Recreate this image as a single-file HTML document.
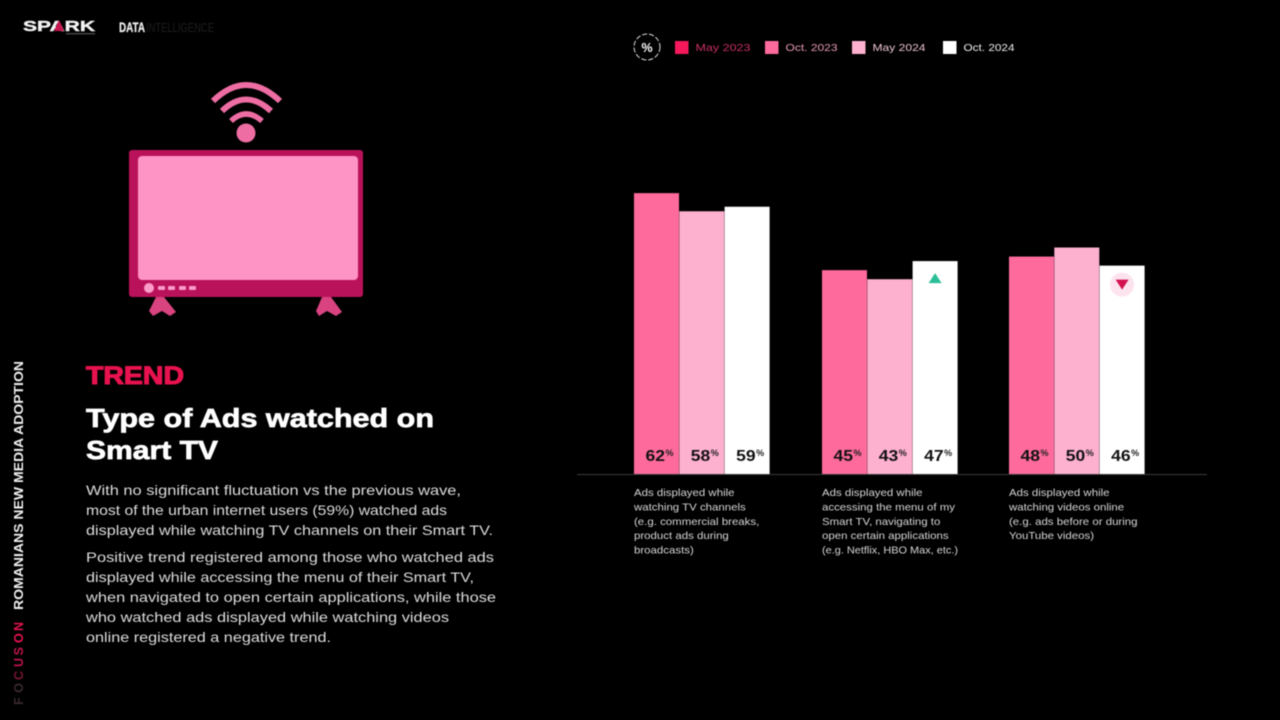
<!DOCTYPE html>
<html lang="en">
<head>
<meta charset="utf-8">
<title>Type of Ads watched on Smart TV</title>
<style>
html,body{margin:0;padding:0;background:#000;width:1280px;height:720px;overflow:hidden}
svg{display:block;font-family:"Liberation Sans",sans-serif;filter:blur(.45px)}
.body-line{font-size:14px;fill:#dcdcdc}
.cat-line{font-size:10.5px;fill:#d6d6d6}
.legend-label{font-size:10.5px}
</style>
</head>
<body>
<svg id="root" width="1280" height="720" viewBox="0 0 1280 720" xmlns="http://www.w3.org/2000/svg">
  <rect width="1280" height="720" fill="#000"/>

  <g>
    <text x="23" y="31" font-size="14.5" font-weight="700" fill="#f2f2f2" stroke="#f2f2f2" stroke-width=".4" textLength="72" lengthAdjust="spacingAndGlyphs">SPARK</text>
    <polygon points="54,31 59,20 64,31" fill="#c9164f"/>
    <rect x="66" y="33" width="29" height="1.5" fill="#444"/>
  </g>
  <text x="119" y="32" font-size="14" font-weight="700" fill="#eee" stroke="#eee" stroke-width=".3" textLength="26" lengthAdjust="spacingAndGlyphs">DATA</text>
  <text x="146" y="32" font-size="13" fill="#1e1e1e" textLength="68" lengthAdjust="spacingAndGlyphs">INTELLIGENCE</text>

  <g>
    <path d="M213 101 Q246 69 280 101" fill="none" stroke="#ee6da3" stroke-width="6"/>
    <path d="M222 111 Q246 88 271 111" fill="none" stroke="#ee6da3" stroke-width="6"/>
    <path d="M231 121 Q246 107 262 121" fill="none" stroke="#ee6da3" stroke-width="5.5"/>
    <circle cx="246" cy="133" r="9.5" fill="#ee6da3"/>
    <path d="M156 297 L164 297 L176 312 L170 316 L162 311 L153 316 L149 311 Z" fill="#d9437f"/>
    <path d="M322 297 L331 297 L342 312 L336 316 L327 311 L319 316 L316 311 Z" fill="#d9437f"/>
    <rect x="129" y="150" width="234" height="147" rx="3" fill="#b9115a"/>
    <rect x="138" y="156" width="220" height="124" rx="4" fill="#fe93c5"/>
    <circle cx="149" cy="288" r="5" fill="#fb9cc8"/>
    <rect x="158" y="286" width="7" height="4" rx="1" fill="#fb9cc8"/>
    <rect x="168" y="286" width="7" height="4" rx="1" fill="#fb9cc8"/>
    <rect x="179" y="286" width="7" height="4" rx="1" fill="#fb9cc8"/>
    <rect x="189" y="286" width="7" height="4" rx="1" fill="#fb9cc8"/>
  </g>

  <text x="86" y="384" font-size="25" font-weight="700" fill="#e8124f" stroke="#e8124f" stroke-width="1.1" textLength="98" lengthAdjust="spacingAndGlyphs">TREND</text>
  <g font-size="26" font-weight="700" fill="#fff" stroke="#fff" stroke-width=".7">
    <text x="86" y="427" textLength="348" lengthAdjust="spacingAndGlyphs">Type of Ads watched on</text>
    <text x="86" y="459" textLength="132" lengthAdjust="spacingAndGlyphs">Smart TV</text>
  </g>
  <g>
    <text class="body-line" x="86" y="495" textLength="375" lengthAdjust="spacingAndGlyphs">With no significant fluctuation vs the previous wave,</text>
    <text class="body-line" x="86" y="515" textLength="361" lengthAdjust="spacingAndGlyphs">most of the urban internet users (59%) watched ads</text>
    <text class="body-line" x="86" y="535" textLength="407" lengthAdjust="spacingAndGlyphs">displayed while watching TV channels on their Smart TV.</text>
    <text class="body-line" x="86" y="562" textLength="408" lengthAdjust="spacingAndGlyphs">Positive trend registered among those who watched ads</text>
    <text class="body-line" x="86" y="582" textLength="388" lengthAdjust="spacingAndGlyphs">displayed while accessing the menu of their Smart TV,</text>
    <text class="body-line" x="86" y="602" textLength="410" lengthAdjust="spacingAndGlyphs">when navigated to open certain applications, while those</text>
    <text class="body-line" x="86" y="622" textLength="363" lengthAdjust="spacingAndGlyphs">who watched ads displayed while watching videos</text>
    <text class="body-line" x="86" y="642" textLength="245" lengthAdjust="spacingAndGlyphs">online registered a negative trend.</text>
  </g>

  <g transform="translate(23,705) rotate(-90)" font-size="12.5" font-weight="700">
    <text x="0" y="0" fill="#3a2a2e" textLength="22" lengthAdjust="spacing">FO</text>
    <text x="25" y="0" fill="#7a1733">C</text>
    <text x="38" y="0" fill="#c0134a" textLength="20" lengthAdjust="spacing">US</text>
    <text x="62" y="0" fill="#e8124f" textLength="21" lengthAdjust="spacing">ON</text>
    <text x="95" y="0" fill="#f0f0f0" textLength="249" lengthAdjust="spacingAndGlyphs">ROMANIANS NEW MEDIA ADOPTION</text>
  </g>

  <g>
    <circle cx="647" cy="47" r="13" fill="none" stroke="#ddd" stroke-width="1" stroke-dasharray="5 2"/>
    <text x="647" y="52" font-size="12.5" font-weight="700" fill="#fff" text-anchor="middle">%</text>
  </g>
  <g id="legend"></g>
  <g id="chart"></g>
</svg>
<script>
const categories = [
  ["Ads displayed while","watching TV channels","(e.g. commercial breaks,","product ads during","broadcasts)"],
  ["Ads displayed while","accessing the menu of my","Smart TV, navigating to","open certain applications","(e.g. Netflix, HBO Max, etc.)"],
  ["Ads displayed while","watching videos online","(e.g. ads before or during","YouTube videos)"]
];
const seriesNames = ["May 2023","Oct. 2023","May 2024","Oct. 2024"];
const oct2023 = [62,45,48];
const may2024 = [58,43,50];
const oct2024 = [59,47,46];
const trends = [null,"up","down"];

const NS = "http://www.w3.org/2000/svg";
const baseY = 474;
const pxPerPct = 4.53;
const groupLeft = [634,822,1009];
const barW = 45;
const barColors = ["#fe6a9c","#feb0cf","#ffffff"];
const catStretch = 1.09;
const catMaxWidth = 136;
const yScale = v => baseY - v * pxPerPct;
const xScale = (g, s) => groupLeft[g] + s * 45.3;

function make(tag, attrs, parent, text) {
  const el = document.createElementNS(NS, tag);
  for (const k in attrs) el.setAttribute(k, attrs[k]);
  if (text !== undefined) el.textContent = text;
  parent.appendChild(el);
  return el;
}

const chart = document.getElementById("chart");
const legend = document.getElementById("legend");

const legendColors = ["#f5195c","#fe6a9c","#feb0cf","#ffffff"];
const legendTextColors = ["#c9305f","#e79ab8","#eec4d6","#f2f2f2"];
const legendSwatchX = [675,765,852,943];
const legendTextW = [55,52,53,51];
seriesNames.forEach((name, i) => {
  const sw = make("rect", {x: legendSwatchX[i], y: 41, width: 13.5, height: 13, fill: legendColors[i]}, legend);
  
  
  const t = make("text", {x: legendSwatchX[i] + 20.5, y: 51, class: "legend-label", fill: legendTextColors[i], textLength: legendTextW[i], lengthAdjust: "spacingAndGlyphs"}, legend, name);
  
  
});

const series = [oct2023, may2024, oct2024];
series.forEach((vals, s) => {
  vals.forEach((v, g) => {
    const x = xScale(g, s);
    const y = yScale(v);
    const bar = make("rect", {x: x, y: y, width: barW, height: baseY - y, fill: barColors[s]}, chart);
    
    
    const label = make("text", {x: x + 11.5, y: 461, "font-size": 16, "font-weight": 700, fill: "#111", textLength: 19.5, lengthAdjust: "spacingAndGlyphs"}, chart, String(v));
    
    
    const pct = make("text", {x: x + 31.5, y: 456, "font-size": 9, "font-weight": 700, fill: "#222"}, chart, "%");
    
    
  });
});

trends.forEach((dir, g) => {
  if (!dir) return;
  const cx = xScale(g, 2) + barW / 2;
  if (dir === "up") {
    const cy = yScale(oct2024[g]) + 17;
    const m = make("polygon", {points: `${cx-6.5},${cy+5} ${cx},${cy-5} ${cx+6.5},${cy+5}`, fill: "#2cbf97"}, chart);
    
    
  } else {
    const cy = yScale(oct2024[g]) + 19;
    const halo = make("circle", {cx: cx, cy: cy, r: 12, fill: "#fde3ee"}, chart);
    
    
    const m = make("polygon", {points: `${cx-6.5},${cy-5} ${cx+6.5},${cy-5} ${cx},${cy+5}`, fill: "#d3114f"}, chart);
    
    
  }
});

const axis = make("line", {x1: 577, x2: 1207, y1: 474.5, y2: 474.5, stroke: "#3a3a3a", "stroke-width": 1}, chart);



categories.forEach((lines, g) => {
  lines.forEach((line, i) => {
    const t = make("text", {x: groupLeft[g], y: 496 + i * 14.4, class: "cat-line"}, chart, line);
    
    
    t.setAttribute('textLength', Math.min(t.getComputedTextLength() * catStretch, catMaxWidth));
    t.setAttribute('lengthAdjust', 'spacingAndGlyphs');
  });
});
</script>
</body>
</html>
